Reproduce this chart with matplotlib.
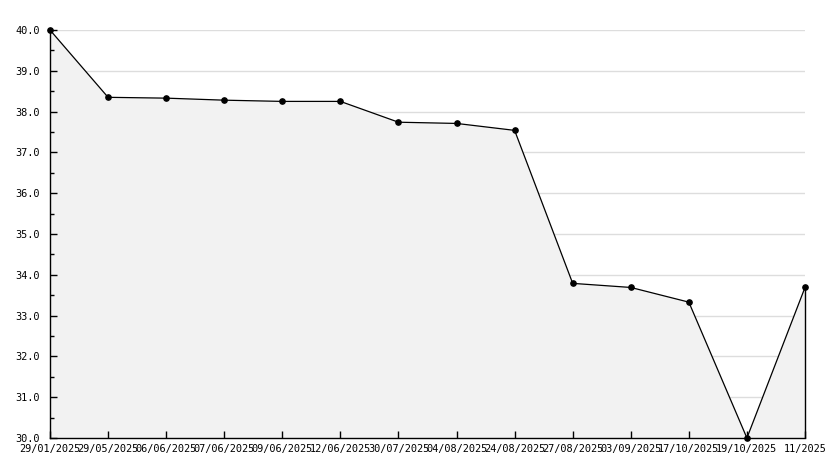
import matplotlib
matplotlib.use("Agg")
import matplotlib.pyplot as plt
from matplotlib.ticker import MultipleLocator, FormatStrFormatter

labels = ["29/01/2025", "29/05/2025", "06/06/2025", "07/06/2025", "09/06/2025",
          "12/06/2025", "30/07/2025", "04/08/2025", "24/08/2025", "27/08/2025",
          "03/09/2025", "17/10/2025", "19/10/2025", "11/2025"]
values = [40.0, 38.35, 38.33, 38.28, 38.25, 38.25, 37.74, 37.71, 37.54,
          33.79, 33.69, 33.33, 30.0, 33.69]

x = list(range(len(values)))

fig = plt.figure(figsize=(8.34, 4.68), dpi=100)
ax = fig.add_axes([50/834, 30/468, 755/834, 408/468])

ax.set_xlim(0, len(values) - 1)
ax.set_ylim(30, 40)

ax.yaxis.set_major_locator(MultipleLocator(1.0))
ax.yaxis.set_minor_locator(MultipleLocator(0.5))
ax.yaxis.set_major_formatter(FormatStrFormatter("%.1f"))
ax.grid(False)
for t in range(31, 41):
    ax.axhline(t, color="#dddddd", linewidth=1.0, zorder=0.2)

poly = ax.fill_between(x, values, 30, facecolor="#f2f2f2", edgecolor="none",
                       linewidth=0, alpha=1.0)
poly.set_zorder(2)
ax.plot(x, values, color="black", linewidth=0.9, marker="o", markersize=3.8,
        markerfacecolor="black", markeredgecolor="black", zorder=4, clip_on=False)
ax.vlines(x[-1], 30, values[-1], color="black", linewidth=1.0, zorder=3,
          clip_on=False)

for s in ["top", "right"]:
    ax.spines[s].set_visible(False)
for s in ["left", "bottom"]:
    ax.spines[s].set_color("black")
    ax.spines[s].set_linewidth(1.0)
    ax.spines[s].set_zorder(5)
ax.xaxis.set_zorder(3.5)
ax.yaxis.set_zorder(3.5)

ax.set_xticks(x)
ax.set_xticklabels(labels)

ax.tick_params(axis="both", which="major", direction="in", length=5, width=1,
               labelsize=7.4, colors="black")
ax.tick_params(axis="y", which="minor", direction="in", length=3, width=1)
ax.tick_params(axis="y", which="major", pad=7)
ax.tick_params(axis="x", which="major", pad=4)
for lbl in ax.get_xticklabels() + ax.get_yticklabels():
    lbl.set_family("DejaVu Sans Mono")

fig.savefig("out.png", dpi=100, facecolor="white")
